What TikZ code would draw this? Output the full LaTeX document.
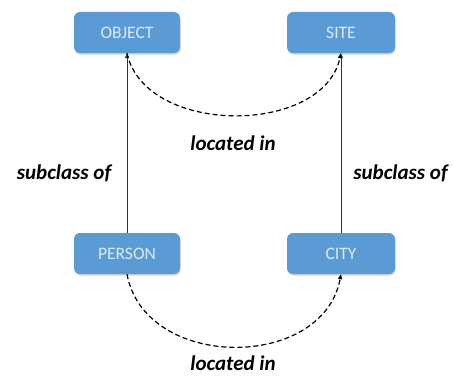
\documentclass[tikz,border=0pt]{standalone}
\usepackage{fontspec}
\setmainfont{Carlito}
\usetikzlibrary{arrows.meta,shadows}
\definecolor{boxblue}{HTML}{5B9BD5}
\definecolor{boxtext}{HTML}{DDEAF7}
\begin{document}
\begin{tikzpicture}[x=1pt,y=1pt,
box/.style={rectangle,rounded corners=6pt,fill=boxblue,text=boxtext,minimum width=106pt,minimum height=41pt,font=\fontsize{17.5}{20}\selectfont,drop shadow={shadow xshift=0.5pt,shadow yshift=-1.5pt,opacity=0.35}},
rel/.style={font=\fontsize{21}{24}\selectfont\bfseries\itshape},
isa/.style={-{Triangle[length=5pt,width=4pt]},line width=0.9pt,black!80},
loc/.style={-{Triangle[length=5pt,width=4pt]},line width=1.2pt,dash pattern=on 5pt off 3pt}]
\useasboundingbox (0,0) rectangle (453,376);
\node[box] (object) at (127,343.5){OBJECT};
\node[box,minimum width=108pt] (site) at (341,343.5){SITE};
\node[box] (person) at (127,122.5){PERSON};
\node[box,minimum width=108pt] (city) at (341,122.5){CITY};
\draw[isa](person.north)--(object.south);
\draw[isa](city.north)--(site.south);
\draw[loc](object.south) .. controls (145,240) and (323,240) .. (site.south);
\draw[loc](person.south) .. controls (145,5) and (323,5) .. (city.south);
\node[rel] (loctop) at (233,233){located in};
\node[rel,inner sep=0pt,anchor=base] (locbot) at (233,6){located in};
\node[rel] (subleft) at (64,203){subclass of};
\node[rel] (subright) at (400.5,203){subclass of};
\end{tikzpicture}
\end{document}
